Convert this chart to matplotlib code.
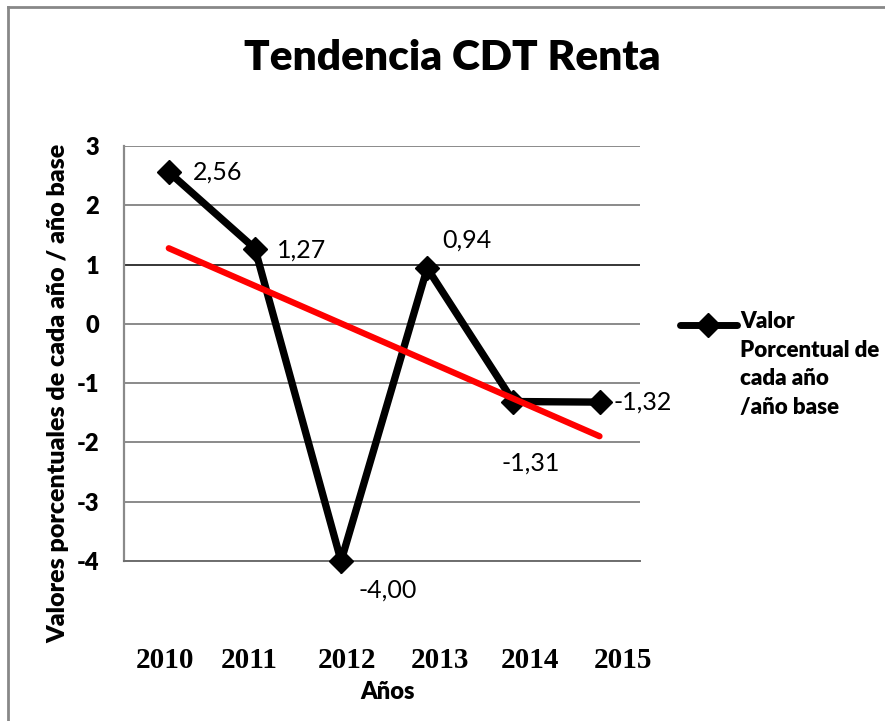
import matplotlib
matplotlib.use("Agg")
import matplotlib.pyplot as plt
import numpy as np
from matplotlib.lines import Line2D
from matplotlib.transforms import ScaledTranslation

# ---- data ----
years = ["2010", "2011", "2012", "2013", "2014", "2015"]
values = [2.56, 1.27, -4.00, 0.94, -1.31, -1.32]
value_labels = ["2,56", "1,27", "-4,00", "0,94", "-1,31", "-1,32"]
y_ticks = [3, 2, 1, 0, -1, -2, -3, -4]
title = "Tendencia CDT Renta"
y_label = "Valores porcentuales de cada año / año base"
x_label = "Años"
legend_label = "Valor\nPorcentual de\ncada año\n/año base"

SANS = ["Lato", "DejaVu Sans"]
SERIF = ["Liberation Serif", "DejaVu Serif"]

W, H = 885, 721
fig = plt.figure(figsize=(W / 100, H / 100), dpi=100)
fig.patch.set_facecolor("white")

ax = fig.add_axes([124 / W, 1 - 561 / H, (640 - 124) / W, (561 - 146) / H])
x = np.arange(len(years))
ax.set_xlim(-0.52, len(years) - 0.53)
ax.set_ylim(min(y_ticks), max(y_ticks))

# grid
ax.set_yticks(y_ticks)
ax.set_yticklabels([str(t) for t in y_ticks])
ax.grid(axis="y", color="#8a8a8a", lw=1.4, zorder=0)
ax.set_axisbelow(True)
for gl, t in zip(ax.get_ygridlines(), ax.get_yticks()):
    if t == 1:
        gl.set_color("#000000")
        gl.set_linewidth(1.1)

for s in ["top", "right"]:
    ax.spines[s].set_visible(False)
ax.spines["left"].set_color("#8a8a8a")
ax.spines["left"].set_linewidth(1.6)
ax.spines["bottom"].set_color("#6e6e6e")
ax.spines["bottom"].set_linewidth(1.4)

ax.tick_params(axis="y", length=0, pad=18, labelsize=17)
for lbl in ax.get_yticklabels():
    lbl.set_family(SANS)
    lbl.set_fontweight("heavy")

# x tick labels (serif bold, shifted like the reference)
ax.set_xticks(x)
ax.set_xticklabels(years)
ax.tick_params(axis="x", length=0, pad=62, labelsize=21)
x_shifts = [-4, -6, 6, 13, 17, 23]
for lbl, dx in zip(ax.get_xticklabels(), x_shifts):
    lbl.set_family(SERIF)
    lbl.set_fontweight("bold")
    lbl.set_transform(lbl.get_transform() + ScaledTranslation(dx / 100, 0, fig.dpi_scale_trans))

# series
ax.plot(x, values, color="black", lw=5.3, marker="D", ms=12.5, mfc="black", mec="black",
        zorder=3, solid_joinstyle="miter", clip_on=False)

# linear trend line
coef = np.polyfit(x, values, 1)
ax.plot(x, np.polyval(coef, x), color="#ff0000", lw=4.5, zorder=4, solid_capstyle="round")

# data labels
offsets = [(24, 0), (22, -2), (47, -29), (40, 28), (17, -62), (14, 0)]
has = ["left", "left", "center", "center", "center", "left"]
for xi, v, s, off, ha in zip(x, values, value_labels, offsets, has):
    ax.annotate(s, (xi, v), xytext=off, textcoords="offset pixels",
                ha=ha, va="center", fontsize=18, family=SANS, zorder=5)

# title and axis labels
fig.text(452 / W, 1 - 58 / H, title, ha="center", va="center",
         fontsize=30.5, fontweight="heavy", family=SANS)
fig.text(58 / W, 1 - 393 / H, y_label, rotation=90, ha="center", va="center",
         fontsize=18, fontweight="heavy", family=SANS)
fig.text(388 / W, 1 - 692 / H, x_label, ha="center", va="center",
         fontsize=17, fontweight="heavy", family=SANS)

# legend (manual to align handle with first text line)
ly = 1 - 325 / H
fig.add_artist(Line2D([680 / W, 737 / W], [ly, ly], color="black", lw=5,
                      solid_capstyle="round", transform=fig.transFigure))
fig.add_artist(Line2D([708 / W], [ly], color="black", marker="D", ms=12,
                      transform=fig.transFigure))
fig.text(740 / W, 1 - 311 / H, legend_label, ha="left", va="top",
         fontsize=16, fontweight="heavy", family=SANS, linespacing=1.45)

# outer border (top and left visible)
fig.add_artist(Line2D([8 / W, 1], [1 - 7 / H, 1 - 7 / H], color="#888888", lw=2,
                      transform=fig.transFigure))
fig.add_artist(Line2D([8 / W, 8 / W], [0, 1 - 7 / H], color="#888888", lw=2,
                      transform=fig.transFigure))

fig.savefig("out.png", dpi=100)
